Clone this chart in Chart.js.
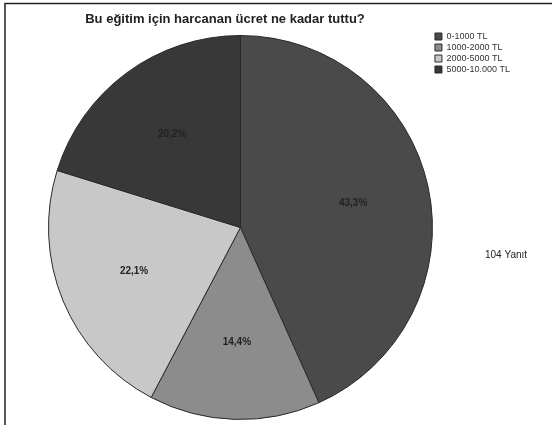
<!DOCTYPE html>
<html>
<head>
<meta charset="utf-8">
<script src="https://cdn.jsdelivr.net/npm/chart.js@4/dist/chart.umd.min.js"></script>
<style>
  body { margin: 0; background: #fff; }
  #wrap { width: 552px; height: 425px; }
</style>
</head>
<body>
<div id="wrap"><canvas id="chart" width="552" height="425"></canvas></div>
<script>
const categories = ["0-1000 TL", "1000-2000 TL", "2000-5000 TL", "5000-10.000 TL"];
const percentages = [43.3, 14.4, 22.1, 20.2];
const sliceColors = ["#4a4a4a", "#8c8c8c", "#c8c8c8", "#383838"];
const titleText = "Bu eğitim için harcanan ücret ne kadar tuttu?";
const responseText = "104 Yanıt";

// Frame, title and the response count
const decorPlugin = {
    id: "decor",
    beforeDraw(chart) {
        const ctx = chart.ctx;
        ctx.save();
        ctx.fillStyle = "#fff";
        ctx.fillRect(0, 0, chart.width, chart.height);
        ctx.strokeStyle = "#222";
        ctx.lineWidth = 1.5;
        ctx.beginPath();
        ctx.moveTo(5, chart.height);
        ctx.lineTo(5, 3.5);
        ctx.lineTo(chart.width, 3.5);
        ctx.stroke();
        ctx.restore();
    },
    afterDraw(chart) {
        const ctx = chart.ctx;
        ctx.save();
        ctx.fillStyle = "#222";
        ctx.font = "bold 13px 'Liberation Sans', Arial, sans-serif";
        ctx.textAlign = "center";
        ctx.textBaseline = "middle";
        ctx.fillText(titleText, 225, 19);
        ctx.font = "10px 'Liberation Sans', Arial, sans-serif";
        ctx.textAlign = "left";
        ctx.fillText(responseText, 485, 255);
        ctx.restore();
    }
};

// Percentage labels inside each slice
const sliceLabelPlugin = {
    id: "sliceLabels",
    afterDatasetsDraw(chart) {
        const ctx = chart.ctx;
        const meta = chart.getDatasetMeta(0);
        ctx.save();
        ctx.fillStyle = "#222";
        ctx.font = "bold 10px 'Liberation Sans', Arial, sans-serif";
        ctx.textAlign = "center";
        ctx.textBaseline = "middle";
        meta.data.forEach((arc, i) => {
            const p = arc.getProps(["x", "y", "startAngle", "endAngle", "outerRadius"], true);
            const mid = (p.startAngle + p.endAngle) / 2;
            const r = p.outerRadius * 0.6;
            const text = percentages[i].toFixed(1).replace(".", ",") + "%";
            ctx.fillText(text, p.x + Math.cos(mid) * r, p.y + Math.sin(mid) * r);
        });
        ctx.restore();
    }
};

new Chart(document.getElementById("chart"), {
    type: "pie",
    data: {
        labels: categories,
        datasets: [{
            data: percentages,
            backgroundColor: sliceColors,
            borderColor: "#2a2a2a",
            borderWidth: 1
        }]
    },
    options: {
        responsive: false,
        animation: false,
        layout: { padding: { top: 30, bottom: 0, left: 48, right: 32 } },
        plugins: {
            legend: {
                position: "right",
                align: "start",
                labels: {
                    boxWidth: 7,
                    boxHeight: 7,
                    padding: 2,
                    color: "#333",
                    font: { size: 9, family: "'Liberation Sans', Arial, sans-serif", lineHeight: 1.0 }
                }
            },
            title: { display: false },
            tooltip: { enabled: false }
        }
    },
    plugins: [decorPlugin, sliceLabelPlugin]
});
</script>
</body>
</html>
